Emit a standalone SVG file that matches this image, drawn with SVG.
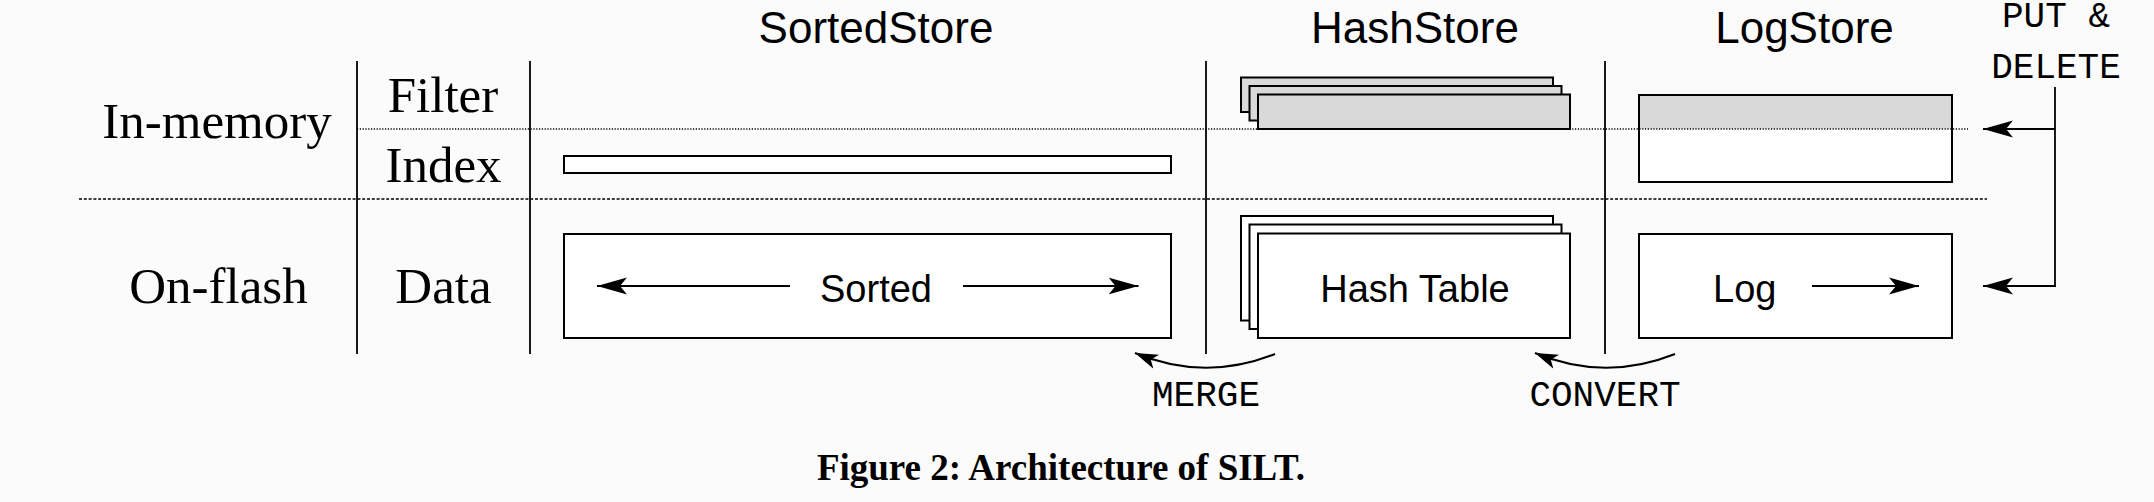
<svg xmlns="http://www.w3.org/2000/svg" width="2154" height="502" viewBox="0 0 2154 502">
<defs>
<marker id="ah" markerUnits="userSpaceOnUse" viewBox="0 -10 32 20" refX="30" refY="0" markerWidth="32" markerHeight="20" orient="auto">
<path d="M30,0 L0,-8.5 L7,0 L0,8.5 Z" fill="#000"/>
</marker>
<marker id="ahs" markerUnits="userSpaceOnUse" viewBox="0 -9 25 18" refX="23" refY="0" markerWidth="25" markerHeight="18" orient="auto">
<path d="M23,0 L0,-7.5 L6,0 L0,7.5 Z" fill="#000"/>
</marker>
<style>
.bg{fill:#fbfbfb}
.sep{stroke:#000;stroke-width:1.8;fill:none}
.box{fill:#fff;stroke:#000;stroke-width:2}
.gbox{fill:#d9d9d9;stroke:#000;stroke-width:2}
.ln{stroke:#000;stroke-width:1.8;fill:none}
.cv{stroke:#000;stroke-width:2;fill:none}
.dot{stroke:#000;stroke-width:1.3;stroke-dasharray:1.2 1.6;fill:none}
.dash{stroke:#000;stroke-width:1.5;stroke-dasharray:3 1.8;fill:none}
.serif{font-family:"Liberation Serif",serif;font-size:51px;fill:#000;text-anchor:middle}
.title{font-family:"Liberation Sans",sans-serif;font-size:44px;fill:#000;text-anchor:middle}
.inner{font-family:"Liberation Sans",sans-serif;font-size:38px;fill:#000;text-anchor:middle}
.mono{font-family:"Liberation Mono",monospace;font-size:36px;fill:#000;text-anchor:middle}
.cap{font-family:"Liberation Serif",serif;font-size:37px;font-weight:bold;fill:#000;text-anchor:middle}
</style>
</defs>
<rect class="bg" x="0" y="0" width="2154" height="502"/>

<g id="row-labels">
<text class="serif" x="217" y="138">In-memory</text>
<text class="serif" x="218.5" y="303">On-flash</text>
<text class="serif" x="443" y="112">Filter</text>
<text class="serif" x="443.5" y="182">Index</text>
<text class="serif" x="443.5" y="303">Data</text>
</g>

<g id="titles">
<text class="title" x="876" y="43">SortedStore</text>
<text class="title" x="1415" y="43">HashStore</text>
<text class="title" x="1804.5" y="43">LogStore</text>
<text class="mono" x="2056" y="27">PUT &amp;</text>
<text class="mono" x="2056" y="78">DELETE</text>
</g>

<g id="grid">
<line class="sep" x1="357" y1="61" x2="357" y2="354"/>
<line class="sep" x1="530" y1="61" x2="530" y2="354"/>
<line class="sep" x1="1206" y1="61" x2="1206" y2="354"/>
<line class="sep" x1="1605" y1="61" x2="1605" y2="354"/>
<line class="dash" x1="79" y1="199" x2="1987" y2="199"/>
</g>

<g id="sortedstore-index">
<rect class="box" x="564" y="156" width="607" height="17"/>
</g>
<g id="sortedstore-data">
<rect class="box" x="564" y="234" width="607" height="104"/>
<text class="inner" x="876" y="302">Sorted</text>
</g>

<g id="hashstore-filter">
<rect class="gbox" x="1241" y="77.5" width="312" height="34.5"/>
<rect class="gbox" x="1249.5" y="86" width="312" height="34.5"/>
<rect class="gbox" x="1258" y="94.5" width="312" height="34.5"/>
</g>
<g id="hashstore-data">
<rect class="box" x="1241" y="216" width="312" height="104.5"/>
<rect class="box" x="1249.5" y="224.5" width="312" height="104.5"/>
<rect class="box" x="1258" y="233.5" width="312" height="104.5"/>
<text class="inner" x="1415" y="302">Hash Table</text>
</g>

<g id="logstore-memory">
<rect class="box" x="1639" y="95" width="313" height="87"/>
<rect x="1640" y="96" width="311" height="33" fill="#d9d9d9"/>
</g>
<g id="logstore-data">
<rect class="box" x="1639" y="234" width="313" height="104"/>
<text class="inner" x="1713" y="302" style="text-anchor:start">Log</text>
</g>

<line class="dot" x1="357" y1="129" x2="1968" y2="129"/>

<g id="connectors">
<line class="ln" x1="790" y1="286" x2="597" y2="286" marker-end="url(#ah)"/>
<line class="ln" x1="963" y1="286" x2="1138.5" y2="286" marker-end="url(#ah)"/>
<line class="ln" x1="1812" y1="286" x2="1919" y2="286" marker-end="url(#ah)"/>
<polyline class="ln" points="2055,87 2055,286"/>
<line class="ln" x1="2055" y1="129" x2="1983" y2="129" marker-end="url(#ah)"/>
<line class="ln" x1="2056" y1="286" x2="1983" y2="286" marker-end="url(#ah)"/>
<path class="cv" d="M1275,354 Q1205,382 1135,353" marker-end="url(#ahs)"/>
<path class="cv" d="M1675,354 Q1605,382 1535,353" marker-end="url(#ahs)"/>
</g>

<g id="op-labels">
<text class="mono" x="1206" y="406">MERGE</text>
<text class="mono" x="1605" y="406">CONVERT</text>
</g>

<text class="cap" x="1061" y="480">Figure 2: Architecture of SILT.</text>
</svg>
